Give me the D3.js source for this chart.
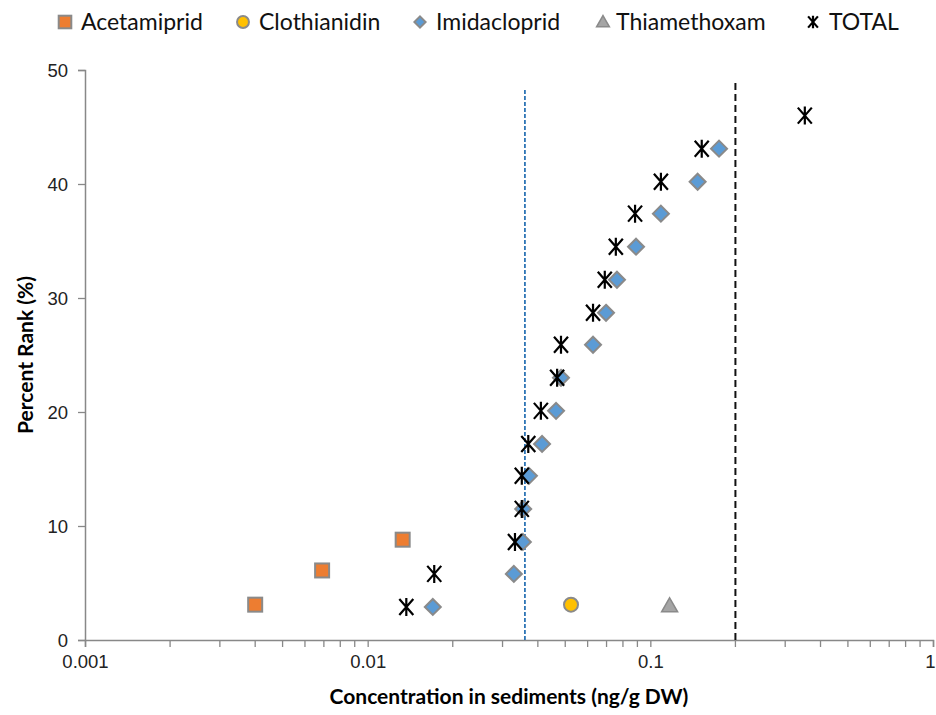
<!DOCTYPE html>
<html>
<head>
<meta charset="utf-8">
<script src="https://cdn.jsdelivr.net/npm/d3@7"></script>
<style>
  body{margin:0;background:#fff;}
  svg{display:block;}
</style>
</head>
<body>
<div id="chart"></div>
<script>
// data
const seriesNames=["Acetamiprid","Clothianidin","Imidacloprid","Thiamethoxam","TOTAL"]

const acetX=[0.004,0.0069,0.0133]
const acetY=[3.1,6.1,8.8]

const clothX=[0.0524]
const clothY=[3.1]

const imidX=[0.017,0.0329,0.0354,0.0355,0.0372,0.0414,0.0464,0.0483,0.0627,0.0697,0.0762,0.089,0.109,0.147,0.175]
const imidY=[2.9,5.8,8.6,11.5,14.4,17.2,20.1,23.0,25.9,28.7,31.6,34.5,37.4,40.2,43.1]

const thiaX=[0.117]
const thiaY=[3.0]

const totalX=[0.0137,0.0172,0.0332,0.0351,0.0351,0.037,0.041,0.0468,0.0483,0.0627,0.069,0.0755,0.0883,0.109,0.152,0.352]
const totalY=[2.9,5.8,8.6,11.5,14.4,17.2,20.1,23.0,25.9,28.7,31.6,34.5,37.4,40.2,43.1,46.0]

const refLines=[0.036,0.2]
const xTicks=[0.001,0.01,0.1,1]
const yTicks=[0,10,20,30,40,50]

let width=936, height=715
let margin={left:85,right:3,top:70,bottom:75}

let svg=d3.select("#chart").append("svg")
.attr("width",width).attr("height",height)
.style("font-family","Lato, 'Open Sans', sans-serif")

let x=d3.scaleLog().domain([0.001,1]).range([margin.left,width-margin.right])
let y=d3.scaleLinear().domain([0,50]).range([height-margin.bottom,margin.top])

// axes
let xAxis=d3.axisBottom(x).tickValues(xTicks).tickFormat(d=>d3.format("")(d)).tickSize(7).tickPadding(8)
let gx=svg.append("g").attr("transform",`translate(0,${y(0)})`).call(xAxis)
// minor ticks
let minor=[]
for(let e=-3;e<0;e++){for(let m=2;m<10;m++){minor.push(m*Math.pow(10,e))}}
gx.selectAll(".minor").data(minor).enter().append("line")
.attr("class","minor")
.attr("x1",d=>x(d)).attr("x2",d=>x(d)).attr("y1",0).attr("y2",7)
.attr("stroke","#888").attr("stroke-width",1.3)

let yAxis=d3.axisLeft(y).tickValues(yTicks).tickSize(7).tickPadding(10)
let gy=svg.append("g").attr("transform",`translate(${margin.left},0)`).call(yAxis)

svg.selectAll(".domain").attr("stroke","#888").attr("stroke-width",1.5)
svg.selectAll(".tick line").attr("stroke","#888").attr("stroke-width",1.3)
svg.selectAll(".tick text").style("font-size","18.5px").attr("fill","#222")
gy.selectAll(".tick text").attr("dy","0.35em")
// keep the last label inside the page
gx.selectAll(".tick text").filter(d=>d===1).attr("dx","-3px")

// axis titles
svg.append("text")
.attr("x",(x(0.001)+x(1))/2).attr("y",704)
.attr("text-anchor","middle")
.style("font-size","21px").style("font-weight","bold")
.text("Concentration in sediments (ng/g DW)")

svg.append("text")
.attr("transform",`translate(33,${(y(0)+y(50))/2}) rotate(-90)`)
.attr("text-anchor","middle")
.style("font-size","21px").style("font-weight","bold")
.text("Percent Rank (%)")

// reference lines
svg.append("line")
.attr("x1",x(refLines[0])).attr("x2",x(refLines[0]))
.attr("y1",y(0)).attr("y2",y(48.4))
.attr("stroke","#2E75B6").attr("stroke-width",1.8).attr("stroke-dasharray","4,2")
svg.append("line")
.attr("x1",x(refLines[1])).attr("x2",x(refLines[1]))
.attr("y1",y(0)).attr("y2",y(48.9))
.attr("stroke","#111").attr("stroke-width",2).attr("stroke-dasharray","7,4")

// marker shapes, k scales them down for the legend
const stroke="#8a8a8a"
function square(g,k=1){g.append("rect").attr("x",-7*k).attr("y",-7*k).attr("width",14*k).attr("height",14*k)
  .attr("fill","#ED7D31").attr("stroke",stroke).attr("stroke-width",2)}
function circle(g,k=1){g.append("circle").attr("r",7*k)
  .attr("fill","#FFC000").attr("stroke",stroke).attr("stroke-width",2)}
function diamond(g,k=1){g.append("path").attr("d",`M0,${-8*k}L${8*k},0L0,${8*k}L${-8*k},0Z`)
  .attr("fill","#5B9BD5").attr("stroke",stroke).attr("stroke-width",2)}
function triangle(g,k=1){g.append("path").attr("d",`M0,${-8*k}L${8*k},${6*k}L${-8*k},${6*k}Z`)
  .attr("fill","#A5A5A5").attr("stroke",stroke).attr("stroke-width",1.5)}
function star(g,k=1){g.append("path").attr("d",`M${-7*k},${-8*k}L${7*k},${8*k}M${-7*k},${8*k}L${7*k},${-8*k}M0,${-9*k}L0,${9*k}`)
  .attr("fill","none").attr("stroke","#000").attr("stroke-width",2.2)}

const shapes=[square,circle,diamond,triangle,star]
const xs=[acetX,clothX,imidX,thiaX,totalX]
const ys=[acetY,clothY,imidY,thiaY,totalY]

xs.forEach((arr,s)=>{
  let pts=arr.map((v,i)=>({x:v,y:ys[s][i]}))
  svg.append("g").selectAll("g").data(pts).enter().append("g")
  .attr("transform",d=>`translate(${x(d.x)},${y(d.y)})`)
  .each(function(){shapes[s](d3.select(this))})
})

// legend
const legendX=[65,243,420,603,813]
const legendScale=[0.9,0.85,0.7,0.8,0.7]
let leg=svg.append("g")
seriesNames.forEach((n,i)=>{
  let g=leg.append("g").attr("transform",`translate(${legendX[i]},22)`)
  shapes[i](g,legendScale[i])
  g.append("text").attr("x",i==3?13:16).attr("y",0).attr("dy","0.35em")
  .style("font-size","23px").attr("fill","#111").text(n)
})
</script>
</body>
</html>
